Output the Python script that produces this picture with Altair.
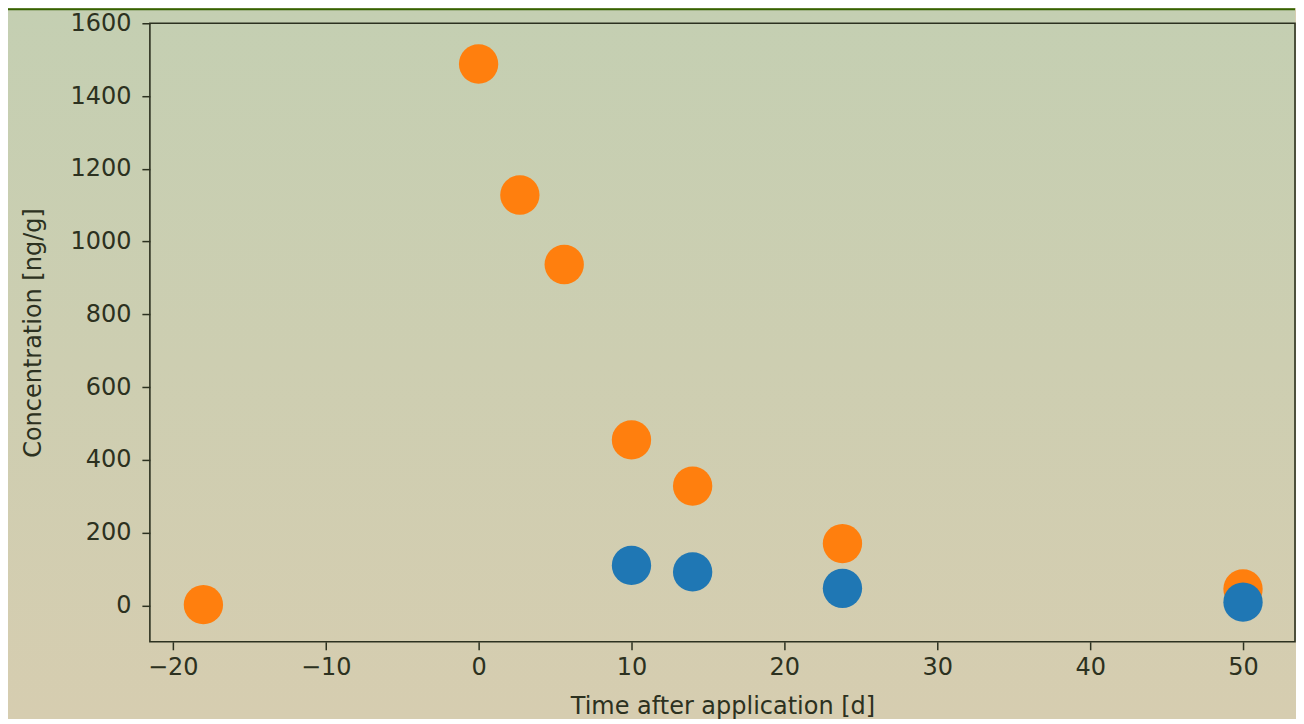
import altair as alt
import pandas as pd

# Data
orange_t = [-18, 0, 2.7, 5.6, 10, 14, 23.8, 50]
orange_c = [2, 1488, 1128, 937, 455, 328, 170, 45]
blue_t = [10, 14, 23.8, 50]
blue_c = [110, 92, 47, 9]

x_ticks = [-20, -10, 0, 10, 20, 30, 40, 50]
y_ticks = [0, 200, 400, 600, 800, 1000, 1200, 1400, 1600]

ORANGE = "#ff7f0e"
BLUE = "#1f77b4"
INK = "#2c3120"

W, H = 1146, 619
LEFT, TOP = 142, 15
TOTAL_W, TOTAL_H = 1288, 708

df = pd.DataFrame(
    {
        "t": orange_t + blue_t,
        "c": orange_c + blue_c,
        "series": ["a"] * len(orange_t) + ["b"] * len(blue_t),
    }
)

one = pd.DataFrame({"k": [0]})

bg = (
    alt.Chart(one)
    .mark_rect(
        color=alt.Gradient(
            gradient="linear",
            stops=[
                alt.GradientStop(color="#c4cfb2", offset=0),
                alt.GradientStop(color="#d6cdb0", offset=1),
            ],
            x1=0, x2=0, y1=0, y2=1,
        ),
    )
    .encode(
        x=alt.value(-LEFT),
        x2=alt.value(TOTAL_W - LEFT),
        y=alt.value(-TOP),
        y2=alt.value(TOTAL_H - TOP),
    )
)

topstrip = (
    alt.Chart(one)
    .mark_rect(color="#376200")
    .encode(
        x=alt.value(-LEFT),
        x2=alt.value(TOTAL_W - LEFT),
        y=alt.value(-TOP),
        y2=alt.value(-TOP + 2),
    )
)

frame = (
    alt.Chart(one)
    .mark_rect(fill=None, stroke=INK, strokeWidth=1.6)
    .encode(x=alt.value(0), x2=alt.value(W), y=alt.value(0), y2=alt.value(H))
)

axis_common = dict(
    grid=False,
    domain=False,
    zindex=1,
    labelFont="DejaVu Sans",
    titleFont="DejaVu Sans",
    labelFontSize=24,
    titleFontSize=24,
    titleFontWeight="normal",
    labelColor=INK,
    titleColor=INK,
    tickColor=INK,
    tickSize=8,
    tickWidth=1.5,
    format="d",
)

points = (
    alt.Chart(df)
    .mark_circle(size=1550, opacity=1)
    .encode(
        x=alt.X(
            "t:Q",
            scale=alt.Scale(domain=[-21.5, 53.4], nice=False, zero=False),
            axis=alt.Axis(values=x_ticks, title="Time after application [d]",
                          labelPadding=6, titlePadding=15, **axis_common),
        ),
        y=alt.Y(
            "c:Q",
            scale=alt.Scale(domain=[-100, 1600], nice=False, zero=False),
            axis=alt.Axis(values=y_ticks, title="Concentration [ng/g]",
                          labelPadding=11, titlePadding=24, **axis_common),
        ),
        color=alt.Color(
            "series:N",
            scale=alt.Scale(domain=["a", "b"], range=[ORANGE, BLUE]),
            legend=None,
        ),
    )
)

chart = (
    alt.layer(bg, topstrip, points, frame)
    .properties(width=W, height=H, padding=0, background="#d6cdb0")
    .configure_view(stroke=None)
)

chart.save("out.html", embed_options={"renderer": "svg", "actions": False})
